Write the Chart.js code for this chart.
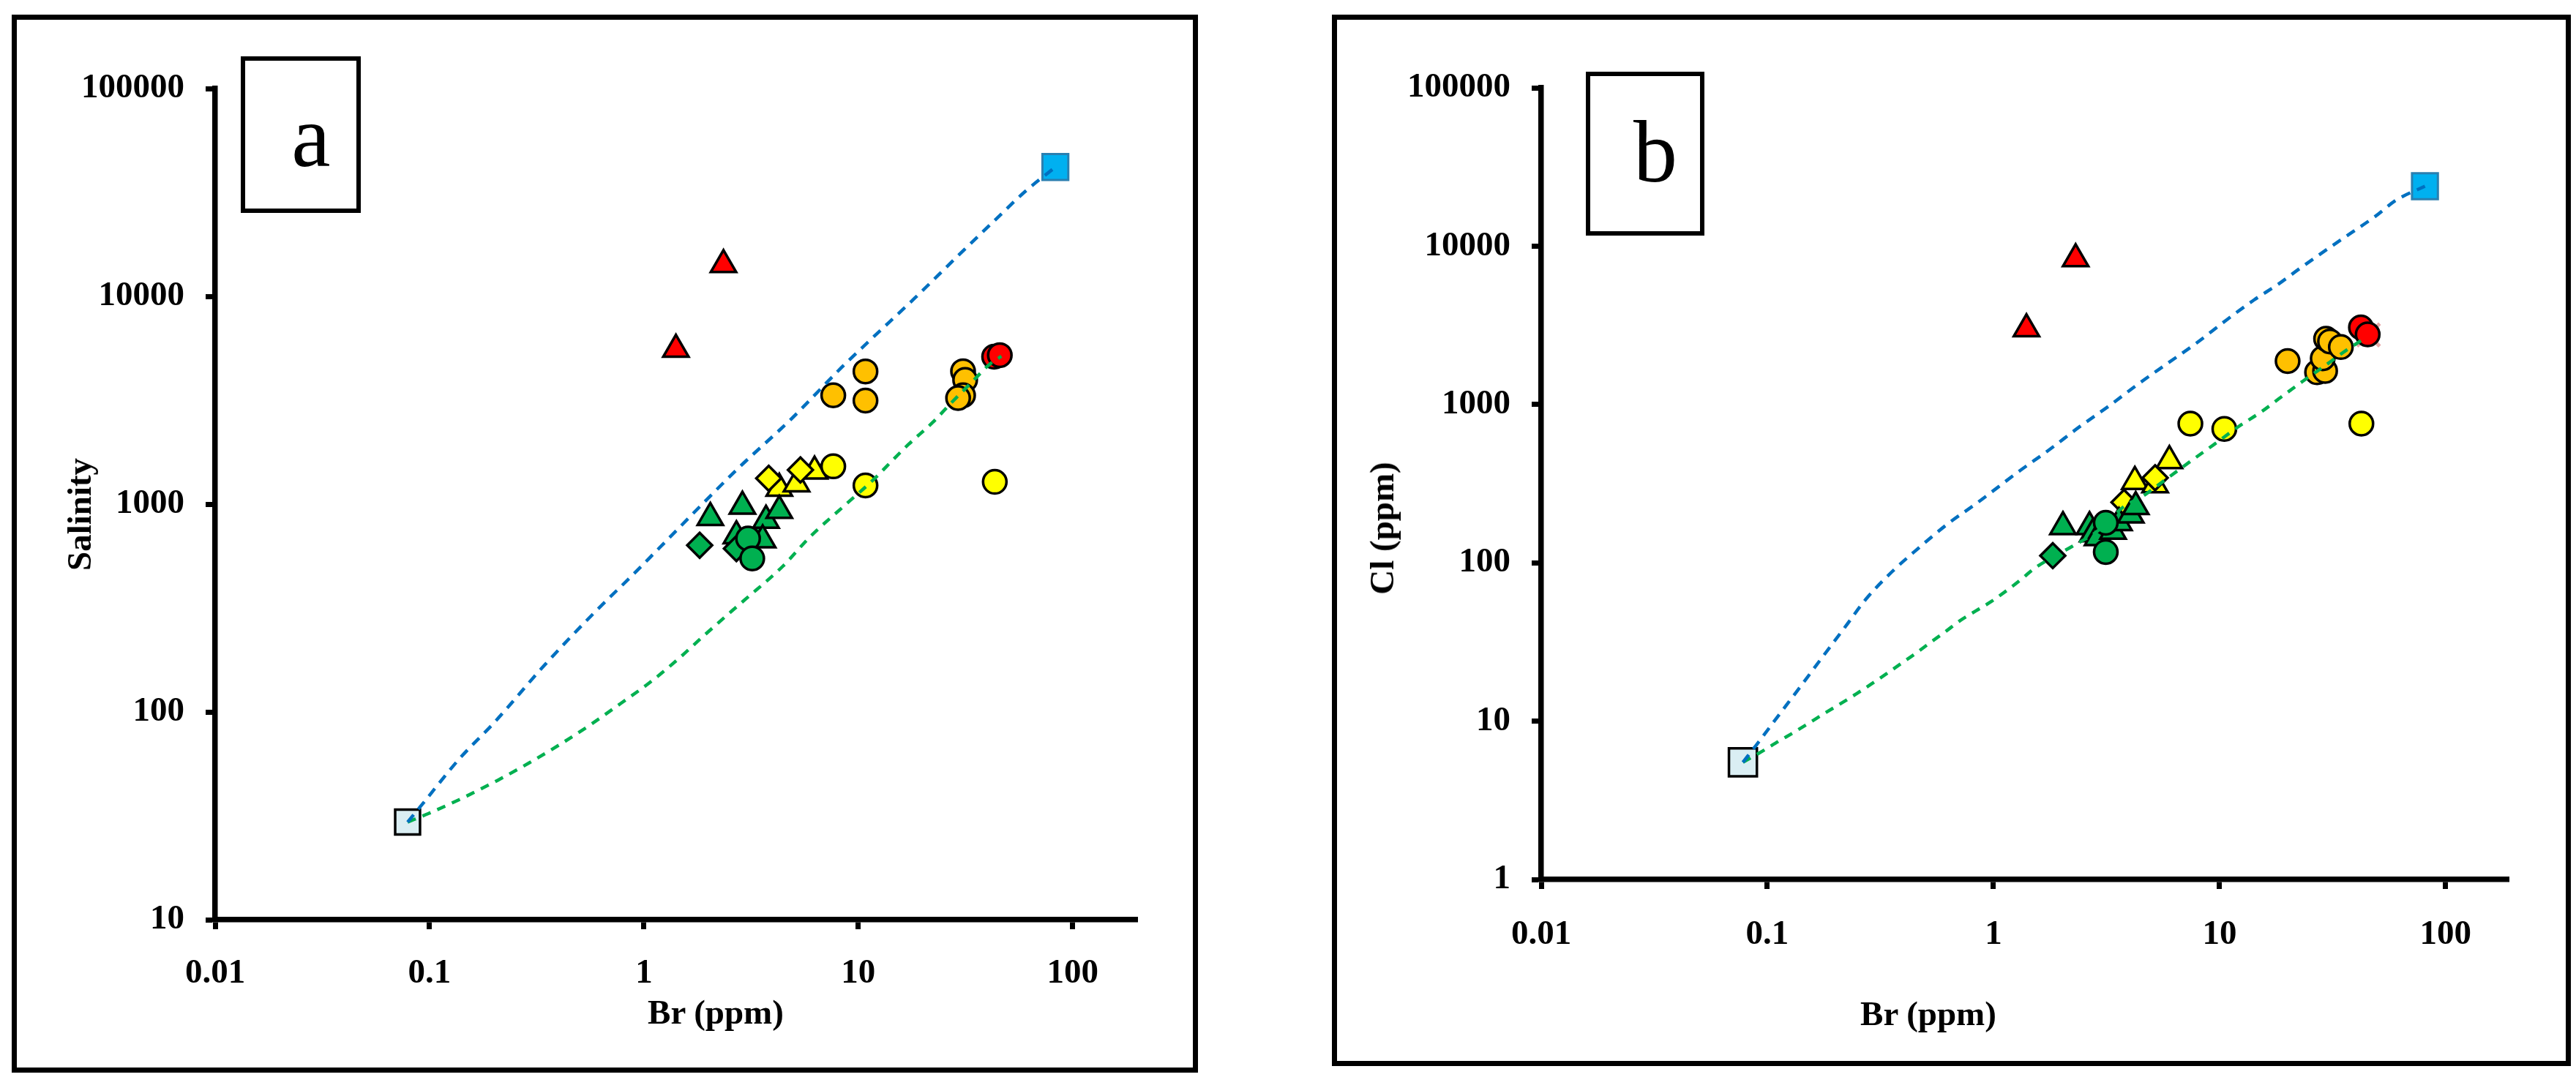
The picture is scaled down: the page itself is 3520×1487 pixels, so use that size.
<!DOCTYPE html>
<html>
<head>
<meta charset="utf-8">
<script src="https://cdn.jsdelivr.net/npm/chart.js@4.4.1/dist/chart.umd.min.js"></script>
<style>
  body { margin: 0; background: #fff; width: 3520px; height: 1487px; position: relative; overflow: hidden; }
  .panel { position: absolute; top: 0; width: 1760px; height: 1487px; }
  .frame { position: absolute; box-sizing: border-box; border: 7px solid #000; }
  .tag { position: absolute; box-sizing: border-box; border: 6.5px solid #000; background: #fff;
         font-family: "Liberation Serif", "Times New Roman", serif; font-size: 120px; line-height: 120px;
         text-align: center; padding-top: 44px; padding-left: 28px; }
  .atitle { position: absolute; font-family: "Liberation Serif", "Times New Roman", serif; font-weight: bold;
            font-size: 47px; white-space: nowrap; transform: translate(-50%, -50%); }
  .atitle.rot { transform: translate(-50%, -50%) rotate(-90deg); }
</style>
</head>
<body>
<div class="panel" style="left:0"><canvas id="chartA"></canvas></div>
<div class="panel" style="left:1760px"><canvas id="chartB"></canvas></div>

<div class="frame" style="left:16px;top:20px;width:1621px;height:1446px"></div>
<div class="frame" style="left:1820px;top:20px;width:1693px;height:1437px"></div>
<div class="tag" style="left:329px;top:77px;width:164px;height:214px">a</div>
<div class="tag" style="left:2167px;top:98px;width:162px;height:224px">b</div>

<div class="atitle" style="left:978px;top:1383px">Br (ppm)</div>
<div class="atitle rot" style="left:108px;top:703px">Salinity</div>
<div class="atitle" style="left:2635px;top:1385px">Br (ppm)</div>
<div class="atitle rot" style="left:1888px;top:722px">Cl (ppm)</div>

<script>
// tick values
const brTicks = [0.01, 0.1, 1, 10, 100];
const salTicks = [10, 100, 1000, 10000, 100000];
const clTicks = [1, 10, 100, 1000, 10000, 100000];

// ---- panel a : Br vs salinity ----
const aRainBr = [0.079], aRainSal = [29.5];
const aSeaBr = [83], aSeaSal = [41900];
const aRedTriBr = [2.35, 1.41], aRedTriSal = [14200, 5550];
const aOrangeBr = [10.8, 7.64, 10.8, 30.8, 31.5, 30.8, 29.2];
const aOrangeSal = [4350, 3340, 3150, 4360, 3960, 3340, 3240];
const aYelCircBr = [7.64, 10.8, 43.3], aYelCircSal = [1520, 1230, 1280];
const aYelDiaBr = [3.82, 5.37], aYelDiaSal = [1330, 1460];
const aYelTriBr = [4.28, 5.15, 6.25], aYelTriSal = [1190, 1250, 1440];
const aGrnCircBr = [3.06, 3.20], aGrnCircSal = [683, 548];
const aGrnDiaBr = [1.82, 2.70], aGrnDiaSal = [634, 611];
const aGrnTriBr = [2.04, 2.88, 2.70, 3.40, 3.71, 4.28, 3.58];
const aGrnTriSal = [861, 975, 703, 683, 835, 931, 672];
const aRedCircBr = [43.0, 45.7], aRedCircSal = [5120, 5210];
const aBlueLineBr = [0.079, 0.0912, 0.137, 0.203, 0.342, 0.586, 0.903, 1.17, 2.75, 4.83, 8.37, 11.0, 18.4, 28.3, 44.2, 59.7, 83];
const aBlueLineSal = [29.5, 35.3, 59.1, 90.2, 167, 300, 465, 610, 1486, 2550, 4557, 5970, 9840, 15200, 23700, 31800, 41900];
const aGrnLineBr = [0.079, 0.0986, 0.144, 0.208, 0.292, 0.411, 0.570, 0.781, 1.06, 1.43, 1.905, 2.57, 2.94,
  4.46, 5.96, 8.81, 11.8, 14.5, 17.2, 22.3, 27.2, 33.5, 41.3, 46.5];
const aGrnLineSal = [29.5, 32.4, 38.7, 46.9, 56.9, 70.3, 87.5, 110, 138, 178, 233, 306, 345,
  504, 697, 1004, 1315, 1633, 1945, 2481, 3081, 3823, 4742, 5145];

// ---- panel b : Br vs Cl ----
const bRainBr = [0.078], bRainCl = [5.5];
const bSeaBr = [81], bSeaCl = [23900];
const bRedTriBr = [2.31, 1.40], bRedTriCl = [8310, 3000];
const bOrangeBr = [20.0, 27.0, 29.3, 28.6, 29.6, 30.8, 34.4];
const bOrangeCl = [1880, 1597, 1630, 1956, 2600, 2500, 2305];
const bYelCircBr = [7.43, 10.5, 42.4], bYelCircCl = [757, 701, 757];
const bYelDiaBr = [3.78, 5.19], bYelDiaCl = [241, 344];
const bYelTriBr = [4.22, 5.19, 6.0], bYelTriCl = [326, 310, 441];
const bGrnCircBr = [3.14, 3.14], bGrnCircCl = [179, 117];
const bGrnDiaBr = [1.83], bGrnDiaCl = [111];
const bGrnTriBr = [2.03, 2.66, 2.75, 2.89, 3.38, 3.59, 4.05, 4.26];
const bGrnTriCl = [169, 169, 152, 144, 158, 179, 200, 226];
const bRedCircBr = [42.2, 45.2], bRedCircCl = [3065, 2770];
const bCrossBr = [45.5], bCrossCl = [2750];
const bBlueLineBr = [0.078, 0.0894, 0.1118, 0.140, 0.175, 0.219, 0.274, 0.355, 0.467, 0.621, 0.847, 1.31, 1.76,
  2.40, 3.24, 4.36, 5.88, 7.82, 10.8, 14.2, 18.2, 22.7, 30.7, 38.8, 48.5, 60.7, 81];
const bBlueLineCl = [5.5, 7.06, 10.8, 16.5, 25.3, 38.7, 59.3, 87.5, 124, 174, 239, 382, 516,
  722, 977, 1344, 1816, 2414, 3440, 4570, 5755, 7245, 9800, 12300, 15300, 19600, 23900];
const bGrnLineBr = [0.078, 0.0951, 0.112, 0.1315, 0.1545, 0.179, 0.211, 0.248, 0.2874, 0.338, 0.392, 0.455, 0.528,
  0.613, 0.711, 0.836, 0.983, 1.13, 1.31, 1.52, 2.23, 2.86, 3.80, 4.47, 5.80, 7.35, 9.54, 12.1, 15.5,
  18.9, 23.6, 29.2, 36.5, 43.4];
const bGrnLineCl = [5.5, 6.46, 7.45, 8.52, 9.82, 11.2, 12.9, 14.9, 17.1, 20.0, 23.2, 26.9, 31.5,
  36.7, 43.1, 49.7, 57.2, 65.9, 77.4, 92.3, 127, 157, 228, 258, 337, 432, 564, 723, 910,
  1125, 1418, 1754, 2209, 2592];

const pts = (xs, ys) => xs.map((x, i) => ({ x: x, y: ys[i] }));

function marker(xs, ys, style, fill, r, edge, bw) {
  return {
    data: pts(xs, ys), pointStyle: style, pointRadius: r, pointHoverRadius: r,
    pointBackgroundColor: fill, pointBorderColor: edge || '#000', pointBorderWidth: bw || 3.5,
    showLine: false, order: 1
  };
}
function curve(xs, ys, color, dash) {
  return {
    data: pts(xs, ys), showLine: true, pointRadius: 0, borderColor: color, borderWidth: 4.5,
    borderDash: dash, cubicInterpolationMode: 'monotone', fill: false, order: 0
  };
}

const tickFont = { family: 'Liberation Serif', size: 47, weight: 'bold' };

function axis(min, max, ticks, isY, size, pad) {
  return {
    type: 'logarithmic', min: min, max: max,
    afterBuildTicks: s => { s.ticks = ticks.map(v => ({ value: v })); },
    afterFit: s => { if (isY) s.width = size; else s.height = size; },
    ticks: { callback: v => String(v), font: tickFont, color: '#000', padding: pad, autoSkip: false, maxRotation: 0 },
    grid: { drawOnChartArea: false, drawTicks: true, tickLength: 13, tickWidth: 7, tickColor: '#000' },
    border: { display: true, color: '#000', width: 7.5 }
  };
}

function makeChart(id, datasets, xMax, yMin, yTicks, pad, yWidth, xPad) {
  new Chart(document.getElementById(id), {
    type: 'scatter',
    data: { datasets: datasets },
    options: {
      responsive: true, maintainAspectRatio: false, animation: false,
      layout: { padding: pad },
      plugins: { legend: { display: false }, tooltip: { enabled: false } },
      scales: {
        x: axis(0.01, xMax, brTicks, false, 140, xPad),
        y: axis(yMin, 100000, yTicks, true, yWidth, 29)
      }
    }
  });
}

makeChart('chartA', [
  curve(aBlueLineBr, aBlueLineSal, '#0070C0', [13, 10]),
  curve(aGrnLineBr, aGrnLineSal, '#00B050', [12, 10]),
  marker(aRainBr, aRainSal, 'rect', '#DAEEF3', 24),
  marker(aSeaBr, aSeaSal, 'rect', '#00B0F0', 25, '#2A7FB0', 3),
  marker(aRedTriBr, aRedTriSal, 'triangle', '#FF0000', 20),
  marker(aGrnCircBr, aGrnCircSal, 'circle', '#00B050', 16),
  marker(aGrnDiaBr, aGrnDiaSal, 'rectRot', '#00B050', 17),
  marker(aGrnTriBr, aGrnTriSal, 'triangle', '#00B050', 20),
  marker(aYelCircBr, aYelCircSal, 'circle', '#FFFF00', 16),
  marker(aYelDiaBr, aYelDiaSal, 'rectRot', '#FFFF00', 17),
  marker(aYelTriBr, aYelTriSal, 'triangle', '#FFFF00', 20),
  marker(aOrangeBr, aOrangeSal, 'circle', '#FFC000', 16),
  marker(aRedCircBr, aRedCircSal, 'circle', '#FF0000', 16)
], 200, 10, salTicks, { left: 34, right: 206, top: 121, bottom: 90 }, 260, 33);

makeChart('chartB', [
  curve(bBlueLineBr, bBlueLineCl, '#0070C0', [13, 10]),
  curve(bGrnLineBr, bGrnLineCl, '#00B050', [12, 10]),
  marker(bRainBr, bRainCl, 'rect', '#DAEEF3', 27),
  marker(bSeaBr, bSeaCl, 'rect', '#00B0F0', 25, '#2A7FB0', 3),
  marker(bRedTriBr, bRedTriCl, 'triangle', '#FF0000', 20),
  marker(bGrnCircBr, bGrnCircCl, 'circle', '#00B050', 16),
  marker(bGrnDiaBr, bGrnDiaCl, 'rectRot', '#00B050', 17),
  marker(bGrnTriBr, bGrnTriCl, 'triangle', '#00B050', 20),
  marker(bYelDiaBr, bYelDiaCl, 'rectRot', '#FFFF00', 17),
  marker(bYelTriBr, bYelTriCl, 'triangle', '#FFFF00', 20),
  marker(bYelCircBr, bYelCircCl, 'circle', '#FFFF00', 16),
  marker(bOrangeBr, bOrangeCl, 'circle', '#FFC000', 16),
  marker(bRedCircBr, bRedCircCl, 'circle', '#FF0000', 16),
  marker(bCrossBr, bCrossCl, 'crossRot', '#E6A8A8', 22, '#E6A8A8', 5)
], 190, 1, clTicks, { left: 46, right: 92, top: 120, bottom: 145 }, 300, 35);
</script>
</body>
</html>
